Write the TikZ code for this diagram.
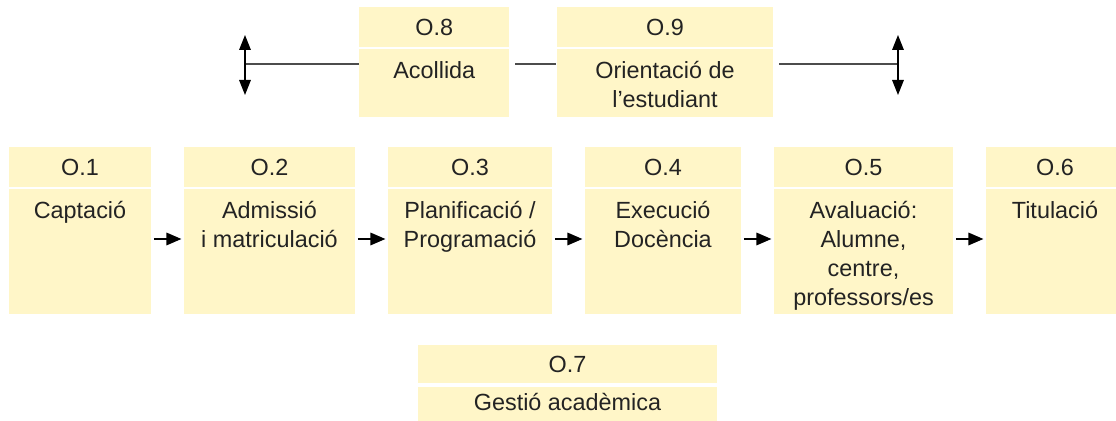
\documentclass[tikz,border=0pt]{standalone}
\usepackage{fontspec}
\setmainfont{Liberation Sans}
\usetikzlibrary{arrows.meta}
\definecolor{paleY}{RGB}{255,246,200}
\definecolor{inkG}{RGB}{35,35,35}
\begin{document}
\begin{tikzpicture}[x=0.5pt,y=-0.5pt,
  hd/.style={fill=paleY,inner sep=0pt,minimum height=19.7pt,text=inkG,font=\fontsize{11.7}{14.5}\selectfont},
  bd/.style={fill=paleY,inner sep=0pt,minimum height=62.5pt},
  txt/.style={align=center,anchor=north,inner sep=0pt,text=inkG,font=\fontsize{11.7}{14.5}\selectfont},
  flow/.style={-{Triangle[length=7.5pt,width=6.3pt]},line width=0.7pt,shorten <=1.2pt,shorten >=1.1pt},
  link/.style={draw=black!70,line width=0.7pt},
  updown/.style={{Triangle[length=7.5pt,width=5.8pt]}-{Triangle[length=7.5pt,width=5.8pt]},line width=0.7pt}]
\useasboundingbox (0,0) rectangle (1116,421);

% main row
\foreach \a/\b/\n/\t in {9/151/1/{Captació},
    184/355/2/{Admissió\\i matriculació},
    388/552/3/{Planificació /\\Programació},
    585/741/4/{Execució\\Docència},
    774/953/5/{Avaluació:\\Alumne,\\centre,\\professors/es},
    986/1124/6/{Titulació}}{
  \node[hd,minimum width={(\b-\a)*0.5pt}] (h\n) at ({(\a+\b)/2},167) {O.\n};
  \node[bd,minimum width={(\b-\a)*0.5pt}] (b\n) at ({(\a+\b)/2},251.8) {};
  \node[txt] (t\n) at ([yshift=-5.9pt]b\n.north) {\t};
}
\coordinate (ar) at (0,239);
\foreach \i [evaluate=\i as \j using int(\i+1)] in {1,...,5}
  \draw[flow] (b\i.east |- ar) -- (b\j.west |- ar);

% top row
\node[hd,minimum width=75pt] (h8) at (434.3,27) {O.8};
\node[bd,minimum width=75pt,minimum height=33.7pt] (b8) at (434.3,83) {};
\node[txt] (t8) at ([yshift=-5.9pt]b8.north) {Acollida};
\node[hd,minimum width=108.3pt] (h9) at (665,27) {O.9};
\node[bd,minimum width=108.3pt,minimum height=33.7pt] (b9) at (665,83) {};
\node[txt] (t9) at ([yshift=-5.9pt]b9.north) {Orientació de\\l’estudiant};

\coordinate (vl) at (245,64);
\coordinate (vlt) at (245,35);
\coordinate (vlb) at (245,95);
\coordinate (vr) at (898,64);
\coordinate (vrt) at (898,35);
\coordinate (vrb) at (898,95);
\draw[link] (vl) -- (b8.west |- vl);
\draw[link,shorten <=2.85pt] (b8.east |- vl) -- (b9.west |- vl);
\draw[link,shorten <=2.85pt] (b9.east |- vr) -- (vr);
\draw[updown] (vlt) -- (vlb);
\draw[updown] (vrt) -- (vrb);

% bottom
\node[hd,minimum width=149.2pt,minimum height=19.15pt] (h7) at (567.5,364.2) {O.7};
\node[bd,minimum width=149.2pt,minimum height=26.65pt] (b7) at (567.5,413.3) {};
\node[txt] (t7) at ([yshift=-3.2pt]b7.north) {Gestió acadèmica};
\end{tikzpicture}
\end{document}
